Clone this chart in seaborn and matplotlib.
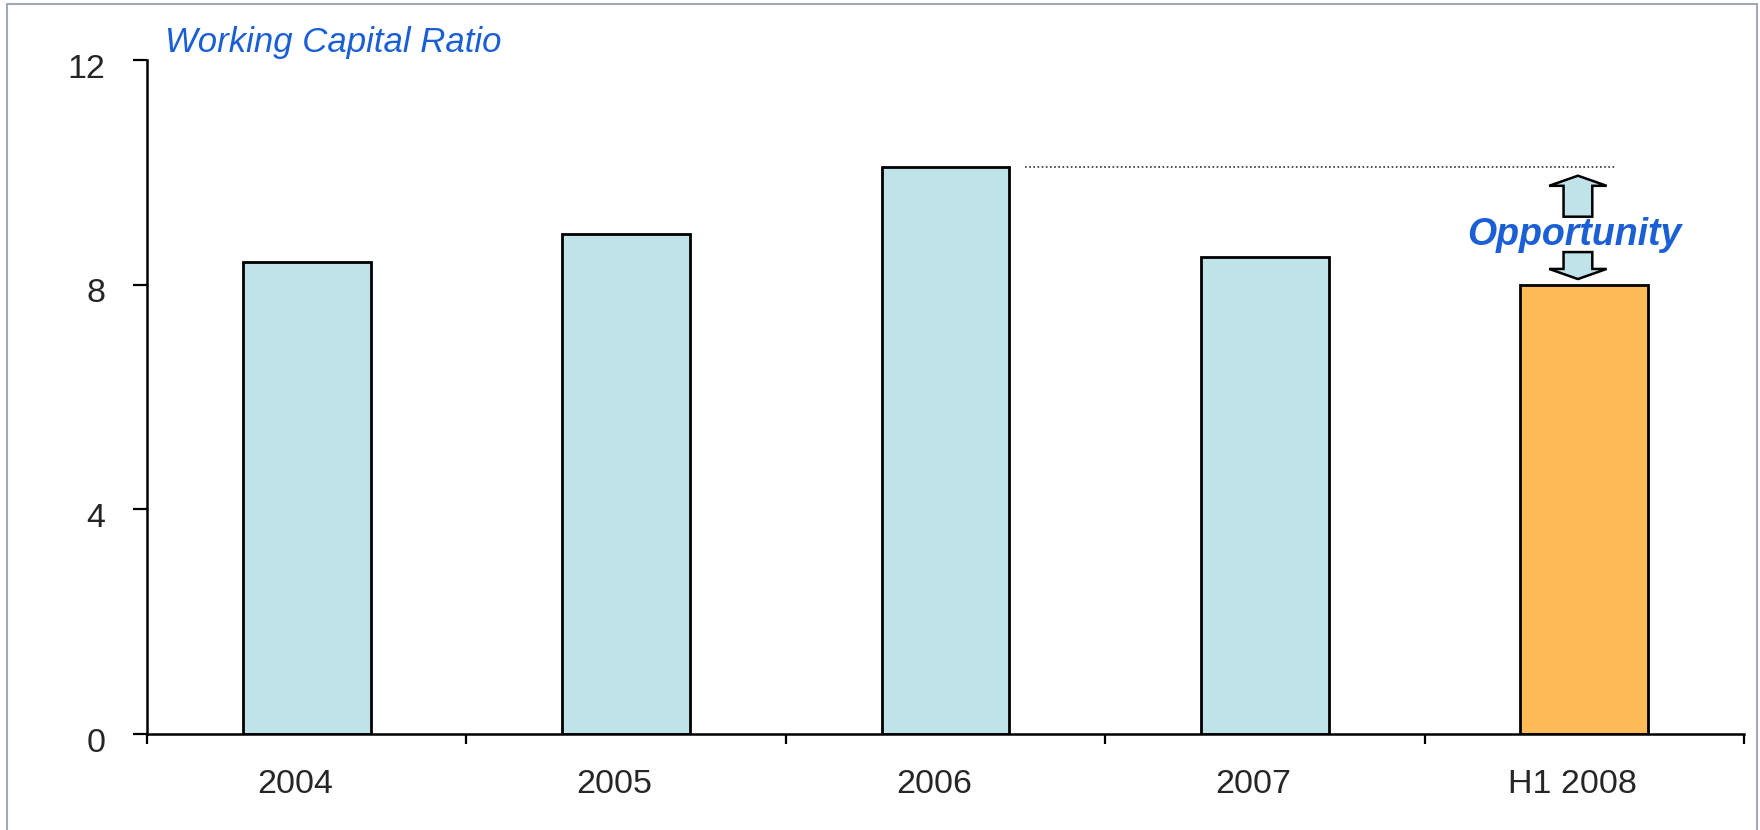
import matplotlib
matplotlib.use('Agg')
import matplotlib.pyplot as plt
import matplotlib.transforms as mtransforms
import seaborn as sns
import pandas as pd
from matplotlib.patches import FancyArrow, Rectangle

# data
periods = ['2004', '2005', '2006', '2007', 'H1 2008']
ratio = [8.4, 8.9, 10.1, 8.5, 8.0]
bar_colors = ['#c0e3ea', '#c0e3ea', '#c0e3ea', '#c0e3ea', '#ffbb55']
y_ticks = [0, 4, 8, 12]

blue = '#1a5fd6'

sns.set_style('white')
plt.rcParams['font.family'] = ['Liberation Sans', 'DejaVu Sans']

df = pd.DataFrame({'period': periods, 'ratio': ratio})

fig = plt.figure(figsize=(17.6, 8.3), dpi=100)
ax = fig.add_axes([147 / 1760, 96 / 830, (1744 - 147) / 1760, (734 - 60) / 830])

sns.barplot(data=df, x='period', y='ratio', hue='period', palette=bar_colors,
            legend=False, width=0.4, edgecolor='black', linewidth=2.0,
            saturation=1, ax=ax)

ax.set_xlim(-0.5, len(periods) - 0.5)
ax.set_ylim(0, 12)
ax.set_yticks(y_ticks)
ax.set_yticklabels([str(t) for t in y_ticks])

# ticks on category boundaries, labels at centres
ax.set_xticks([i - 0.5 for i in range(len(periods) + 1)])
ax.set_xticklabels([])
ax.set_xticks(range(len(periods)), minor=True)
ax.set_xticklabels(periods, minor=True)
ax.tick_params(axis='x', which='major', length=7, width=1.6, color='black', direction='out')
ax.tick_params(axis='x', which='minor', length=0, pad=25, labelsize=24.5)
ax.tick_params(axis='y', length=10, width=1.6, color='black', direction='out', pad=20, labelsize=24.5)
ax.tick_params(bottom=True, left=True)

# y labels sit a little below their ticks, x labels a little left of centre
shift_y = mtransforms.ScaledTranslation(0, -4 / 72, fig.dpi_scale_trans)
for lab in ax.get_yticklabels():
    lab.set_transform(lab.get_transform() + shift_y)
shift_x = mtransforms.ScaledTranslation(-8.5 / 72, 0, fig.dpi_scale_trans)
for lab in ax.get_xticklabels(minor=True):
    lab.set_transform(lab.get_transform() + shift_x)

sns.despine(ax=ax)
for side in ['left', 'bottom']:
    ax.spines[side].set_color('black')
    ax.spines[side].set_linewidth(1.8)
ax.set_xlabel('')
ax.set_ylabel('')

# gap between the 2006 peak and the H1 2008 level
peak = max(ratio)
low = ratio[-1]
xi = len(periods) - 1 - 0.02
ax.hlines(peak, 2.25, 4.1, colors='#333333', linestyles=(0, (1, 1.5)), linewidth=1.2)

arrow_kw = dict(width=0.09, head_width=0.18, head_length=0.18, length_includes_head=True,
                facecolor='#c0e3ea', edgecolor='black', linewidth=1.8, zorder=5)
ax.add_patch(FancyArrow(xi, peak - 0.89, 0, 0.73, **arrow_kw))
ax.add_patch(FancyArrow(xi, low + 0.58, 0, -0.48, **arrow_kw))
ax.text(xi - 0.01, (peak + low) / 2 - 0.16, 'Opportunity', color=blue, fontsize=27,
        fontweight='bold', fontstyle='italic', ha='center', va='center')

fig.text(165 / 1760, (830 - 52) / 830, 'Working Capital Ratio', color=blue,
         fontsize=25, fontstyle='italic', ha='left', va='baseline')

# outer frame
fig.patches.append(Rectangle((7 / 1760, -0.1), 1750 / 1760, 0.1 + 826 / 830,
                             transform=fig.transFigure, fill=False,
                             edgecolor='#a4a8bc', linewidth=1.5))

fig.savefig('out.png', dpi=100)
